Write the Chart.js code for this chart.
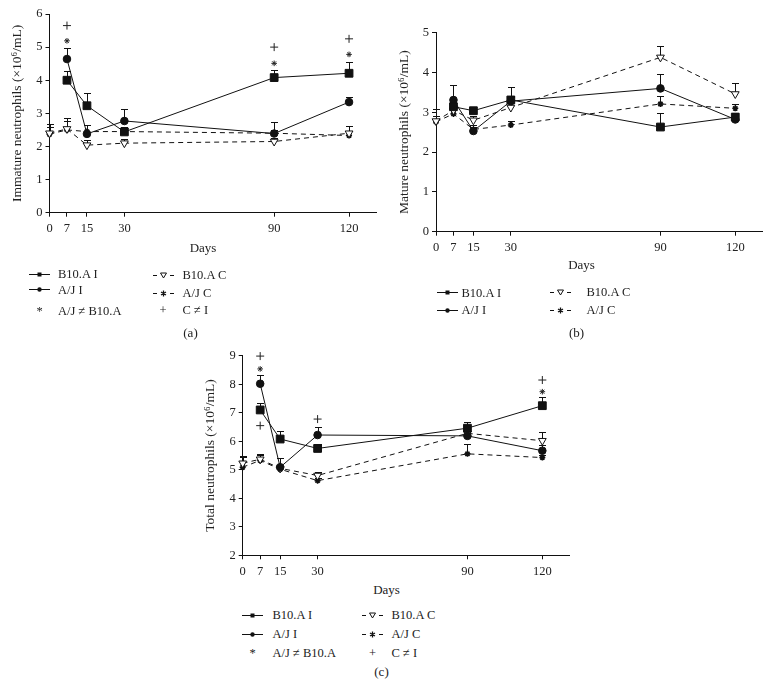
<!DOCTYPE html>
<html>
<head>
<meta charset="utf-8">
<script src="https://cdn.jsdelivr.net/npm/chart.js@4.4.0/dist/chart.umd.min.js"></script>
<style>
  body { margin: 0; background: #fff; width: 770px; height: 687px; position: relative; overflow: hidden;
         font-family: 'Liberation Serif', 'Times New Roman', serif; color: #222; }
  canvas { position: absolute; }
  .txt { position: absolute; font-size: 12.5px; line-height: 14px; white-space: nowrap; }
  .titulo { font-size: 13px; }
  .sym { position: absolute; }
</style>
</head>
<body>
<canvas id="graficoA" width="390" height="260" style="left:0;top:0"></canvas>
<canvas id="graficoB" width="380" height="260" style="left:390px;top:0"></canvas>
<canvas id="graficoC" width="400" height="240" style="left:190px;top:340px"></canvas>
<div id="legendas"></div>
<script>
// Dias de coleta
const dias = [0, 7, 15, 30, 90, 120];
const diasInfectados = [7, 15, 30, 90, 120];
const diasTicks = [0, 7, 15, 30, 90, 120];

// (a) Neutrófilos imaturos
const imaturosB10I = [4.0, 3.23, 2.44, 4.08, 4.21];
const imaturosB10IErro = [0.28, 0.37, 0.15, 0.23, 0.35];
const imaturosAJI = [4.64, 2.38, 2.77, 2.39, 3.34];
const imaturosAJIErro = [0.34, 0.28, 0.36, 0.36, 0.16];
const imaturosB10C = [2.40, 2.53, 2.04, 2.10, 2.15, 2.40];
const imaturosB10CErro = [0.27, 0.34, 0.15, 0.12, 0.12, 0.22];
const imaturosAJC = [2.37, 2.50, 2.45, 2.45, 2.40, 2.33];
const imaturosAJCErro = [0.21, 0.27, 0.2, 0.15, 0.1, 0.15];
const imaturosAsteriscoDias = [7, 90, 120];
const imaturosAsterisco = [5.19, 4.51, 4.78];
const imaturosCruzDias = [7, 90, 120];
const imaturosCruz = [5.65, 5.0, 5.25];

// (b) Neutrófilos maduros
const madurosB10I = [3.14, 3.04, 3.31, 2.63, 2.88];
const madurosB10IErro = [0.15, 0.1, 0.33, 0.34, 0.1];
const madurosAJI = [3.31, 2.53, 3.28, 3.6, 2.82];
const madurosAJIErro = [0.37, 0.1, 0.1, 0.37, 0.1];
const madurosB10C = [2.78, 3.05, 2.8, 3.12, 4.38, 3.46];
const madurosB10CErro = [0.3, 0.2, 0.1, 0.3, 0.29, 0.28];
const madurosAJC = [2.76, 2.96, 2.57, 2.68, 3.21, 3.1];
const madurosAJCErro = [0.15, 0.1, 0.1, 0.1, 0.2, 0.1];

// (c) Neutrófilos totais
const totaisB10I = [7.1, 6.08, 5.75, 6.46, 7.25];
const totaisB10IErro = [0.23, 0.29, 0.15, 0.22, 0.32];
const totaisAJI = [8.02, 5.09, 6.22, 6.19, 5.67];
const totaisAJIErro = [0.31, 0.34, 0.29, 0.15, 0.2];
const totaisB10C = [5.23, 5.37, 5.05, 4.8, 6.28, 6.02];
const totaisB10CErro = [0.25, 0.18, 0.1, 0.14, 0.3, 0.32];
const totaisAJC = [5.09, 5.33, 5.02, 4.62, 5.56, 5.43];
const totaisAJCErro = [0.35, 0.2, 0.1, 0.1, 0.34, 0.1];
const totaisAsteriscoDias = [7, 120];
const totaisAsterisco = [8.54, 7.74];
const totaisCruzDias = [7, 7, 30, 120];
const totaisCruz = [8.99, 6.55, 6.78, 8.15];

const familia = "'Liberation Serif', 'Times New Roman', serif";
const fonteTicks = { family: familia, size: 12.5 };
const fonteTitulo = { family: familia, size: 13.5 };

function pontos(xs, ys) {
  return xs.map((x, i) => ({ x: x, y: ys[i] }));
}

// Barras de erro (só para cima, com traço no topo)
const barrasErro = {
  id: 'barrasErro',
  beforeDatasetsDraw(chart) {
    const ctx = chart.ctx;
    const sx = chart.scales.x, sy = chart.scales.y;
    ctx.save();
    ctx.strokeStyle = '#111';
    ctx.lineWidth = 1;
    chart.data.datasets.forEach(ds => {
      if (!ds.erro) return;
      ds.data.forEach((p, i) => {
        const e = ds.erro[i];
        if (!e) return;
        const px = Math.round(sx.getPixelForValue(p.x)) + 0.5;
        const y0 = sy.getPixelForValue(p.y);
        const y1 = Math.round(sy.getPixelForValue(p.y + e)) + 0.5;
        ctx.beginPath();
        ctx.moveTo(px, y0);
        ctx.lineTo(px, y1);
        ctx.moveTo(px - 3.5, y1);
        ctx.lineTo(px + 3.5, y1);
        ctx.stroke();
      });
    });
    ctx.restore();
  }
};

function serie(nome, xs, ys, erro, estilo, raio, fundo, tracejado) {
  return {
    label: nome,
    data: pontos(xs, ys),
    erro: erro,
    clip: false,
    showLine: true,
    borderColor: '#111',
    borderWidth: 1,
    borderDash: tracejado,
    pointStyle: estilo,
    pointRadius: raio,
    pointBackgroundColor: fundo,
    pointBorderColor: '#111',
    pointBorderWidth: estilo === 'star' ? 1.6 : 1,
    pointRotation: estilo === 'triangle' ? 180 : 0
  };
}

function marcas(xs, ys, estilo, raio) {
  return {
    label: estilo,
    data: pontos(xs, ys),
    clip: false,
    showLine: false,
    pointStyle: estilo,
    pointRadius: raio,
    pointBorderColor: '#222',
    pointBorderWidth: 1
  };
}

function criarGrafico(id, g) {
  const datasets = [
    serie('B10.A I', diasInfectados, g.b10I, g.b10IErro, 'rect', 5.5, '#111', []),
    serie('A/J I', diasInfectados, g.ajI, g.ajIErro, 'circle', 3.8, '#111', []),
    serie('B10.A C', dias, g.b10C, g.b10CErro, 'triangle', 4.5, '#fff', [5, 4]),
    serie('A/J C', dias, g.ajC, g.ajCErro, 'star', 3, '#111', [5, 4])
  ];
  if (g.asteriscoDias) datasets.push(marcas(g.asteriscoDias, g.asterisco, 'star', 2.8));
  if (g.cruzDias) datasets.push(marcas(g.cruzDias, g.cruz, 'cross', 4));

  new Chart(document.getElementById(id), {
    type: 'scatter',
    data: { datasets: datasets },
    options: {
      responsive: false,
      animation: false,
      layout: { padding: { top: g.padTop, right: g.padRight, left: 0, bottom: 0 } },
      plugins: { legend: { display: false }, tooltip: { enabled: false } },
      scales: {
        x: {
          type: 'linear', min: 0, max: 131,
          afterBuildTicks: s => { s.ticks = diasTicks.map(v => ({ value: v })); },
          afterFit: s => { s.height = g.alturaX; },
          border: { color: '#111', width: 1 },
          grid: { display: true, drawOnChartArea: false, drawTicks: true, tickLength: 4, color: '#111' },
          ticks: { color: '#222', font: fonteTicks, padding: 5, maxRotation: 0, autoSkip: false }
        },
        y: {
          min: g.yMin, max: g.yMax,
          afterFit: s => { s.width = g.larguraY; },
          border: { color: '#111', width: 1 },
          grid: { display: true, drawOnChartArea: false, drawTicks: true, tickLength: 4, color: '#111' },
          ticks: { color: '#222', font: fonteTicks, padding: 3, stepSize: 1 },
          title: { display: true, text: g.titulo, color: '#222', font: fonteTitulo, padding: { top: g.padTitulo } }
        }
      }
    },
    plugins: [barrasErro]
  });
}

criarGrafico('graficoA', {
  b10I: imaturosB10I, b10IErro: imaturosB10IErro, ajI: imaturosAJI, ajIErro: imaturosAJIErro,
  b10C: imaturosB10C, b10CErro: imaturosB10CErro, ajC: imaturosAJC, ajCErro: imaturosAJCErro,
  asteriscoDias: imaturosAsteriscoDias, asterisco: imaturosAsterisco,
  cruzDias: imaturosCruzDias, cruz: imaturosCruz,
  yMin: 0, yMax: 6, titulo: 'Immature neutrophils (×10⁶/mL)',
  padTop: 14, padRight: 13.5, larguraY: 49.5, alturaX: 47.3, padTitulo: 9
});

criarGrafico('graficoB', {
  b10I: madurosB10I, b10IErro: madurosB10IErro, ajI: madurosAJI, ajIErro: madurosAJIErro,
  b10C: madurosB10C, b10CErro: madurosB10CErro, ajC: madurosAJC, ajCErro: madurosAJCErro,
  yMin: 0, yMax: 5, titulo: 'Mature neutrophils (×10⁶/mL)',
  padTop: 32.7, padRight: 7.3, larguraY: 46, alturaX: 28.3, padTitulo: 6.5
});

criarGrafico('graficoC', {
  b10I: totaisB10I, b10IErro: totaisB10IErro, ajI: totaisAJI, ajIErro: totaisAJIErro,
  b10C: totaisB10C, b10CErro: totaisB10CErro, ajC: totaisAJC, ajCErro: totaisAJCErro,
  asteriscoDias: totaisAsteriscoDias, asterisco: totaisAsterisco,
  cruzDias: totaisCruzDias, cruz: totaisCruz,
  yMin: 2, yMax: 9, titulo: 'Total neutrophils (×10⁶/mL)',
  padTop: 15.8, padRight: 20.2, larguraY: 52.7, alturaX: 24.7, padTitulo: 12.5
});

// Legendas e rótulos em HTML
const simbolos = {
  quadrado: '<line x1="0" y1="5.5" x2="21" y2="5.5" stroke="#111"/><rect x="8.5" y="3.5" width="4" height="4" fill="#111"/>',
  circulo: '<line x1="0" y1="5.5" x2="21" y2="5.5" stroke="#111"/><circle cx="10.5" cy="5.5" r="2.2" fill="#111"/>',
  triangulo: '<line x1="0" y1="5.5" x2="4" y2="5.5" stroke="#111"/><line x1="17" y1="5.5" x2="21" y2="5.5" stroke="#111"/>' +
             '<polygon points="7.5,3 13.5,3 10.5,8" fill="#fff" stroke="#111"/>',
  estrela: '<line x1="0" y1="5.5" x2="4" y2="5.5" stroke="#111"/><line x1="17" y1="5.5" x2="21" y2="5.5" stroke="#111"/>' +
           '<path d="M10.5 2.5V8.5M8 4L13 7M8 7L13 4" stroke="#111" stroke-width="1.3"/>'
};

const container = document.getElementById('legendas');

function texto(x, y, conteudo, centro, classe) {
  const d = document.createElement('div');
  d.className = 'txt' + (classe ? ' ' + classe : '');
  d.textContent = conteudo;
  d.style.top = (y - 7) + 'px';
  if (centro) {
    d.style.left = (x - 50) + 'px';
    d.style.width = '100px';
    d.style.textAlign = 'center';
  } else {
    d.style.left = x + 'px';
  }
  container.appendChild(d);
}

function simbolo(x, y, tipo) {
  const s = document.createElementNS('http://www.w3.org/2000/svg', 'svg');
  s.setAttribute('class', 'sym');
  s.setAttribute('width', '21');
  s.setAttribute('height', '11');
  s.style.left = x + 'px';
  s.style.top = (y - 5.5) + 'px';
  s.innerHTML = simbolos[tipo];
  container.appendChild(s);
}

function legenda(esq, dir, linhas) {
  linhas.forEach(l => {
    if (l.tipo === '*' || l.tipo === '+') texto(l.lado === 'e' ? esq.x + 10.5 : dir.x + 10.5, l.y, l.tipo, true);
    else simbolo(l.lado === 'e' ? esq.x : dir.x, l.y, l.tipo);
    texto(l.lado === 'e' ? esq.t : dir.t, l.y, l.nome);
  });
}

// (a)
texto(203, 248, 'Days', true, 'titulo');
legenda({ x: 29, t: 58 }, { x: 152.5, t: 182.5 }, [
  { lado: 'e', y: 274, tipo: 'quadrado', nome: 'B10.A I' },
  { lado: 'e', y: 289.5, tipo: 'circulo', nome: 'A/J I' },
  { lado: 'e', y: 310.5, tipo: '*', nome: 'A/J ≠ B10.A' },
  { lado: 'd', y: 275, tipo: 'triangulo', nome: 'B10.A C' },
  { lado: 'd', y: 293, tipo: 'estrela', nome: 'A/J C' },
  { lado: 'd', y: 310, tipo: '+', nome: 'C ≠ I' }
]);
texto(190.5, 333, '(a)', true, 'titulo');

// (b)
texto(581.5, 265, 'Days', true, 'titulo');
legenda({ x: 437, t: 461.5 }, { x: 550, t: 586.5 }, [
  { lado: 'e', y: 292.5, tipo: 'quadrado', nome: 'B10.A I' },
  { lado: 'e', y: 310, tipo: 'circulo', nome: 'A/J I' },
  { lado: 'd', y: 292, tipo: 'triangulo', nome: 'B10.A C' },
  { lado: 'd', y: 310, tipo: 'estrela', nome: 'A/J C' }
]);
texto(576.5, 332.5, '(b)', true, 'titulo');

// (c)
texto(386.5, 590, 'Days', true, 'titulo');
legenda({ x: 242, t: 272.5 }, { x: 362, t: 391.5 }, [
  { lado: 'e', y: 615, tipo: 'quadrado', nome: 'B10.A I' },
  { lado: 'e', y: 634, tipo: 'circulo', nome: 'A/J I' },
  { lado: 'e', y: 652.5, tipo: '*', nome: 'A/J ≠ B10.A' },
  { lado: 'd', y: 615, tipo: 'triangulo', nome: 'B10.A C' },
  { lado: 'd', y: 634, tipo: 'estrela', nome: 'A/J C' },
  { lado: 'd', y: 652.5, tipo: '+', nome: 'C ≠ I' }
]);
texto(381.5, 672, '(c)', true, 'titulo');
</script>
</body>
</html>
